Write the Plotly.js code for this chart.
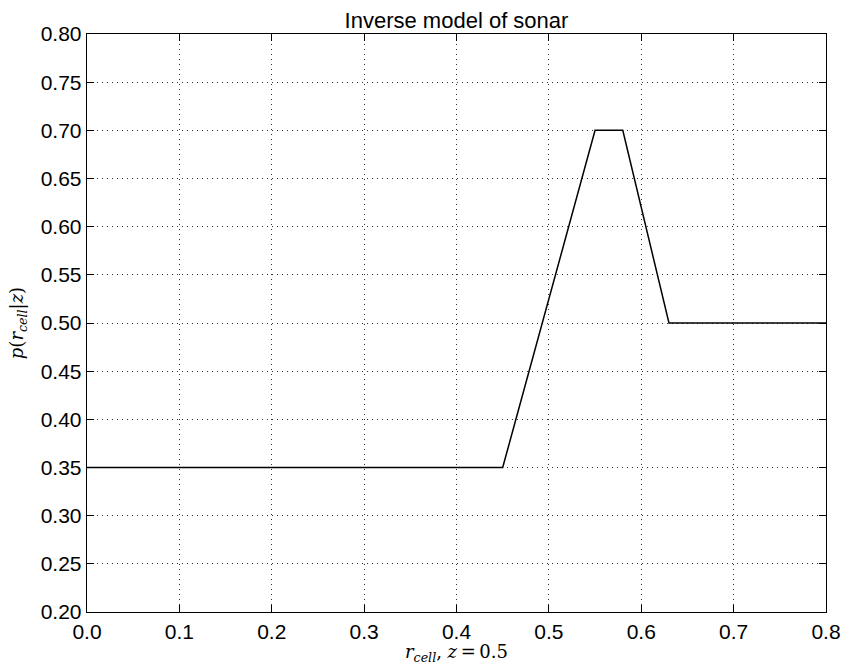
<!DOCTYPE html>
<html><head><meta charset="utf-8">
<script src="https://cdn.plot.ly/plotly-3.0.1.min.js"></script>
<style>body{margin:0;background:#fff}#c{width:841px;height:665px}</style>
</head><body><div id="c"></div>
<script>
const rCell = [0.0, 0.45, 0.55, 0.58, 0.63, 0.8];
const pOcc = [0.35, 0.35, 0.70, 0.70, 0.50, 0.50];
const xTicks = [0.0, 0.1, 0.2, 0.3, 0.4, 0.5, 0.6, 0.7, 0.8];
const yTicks = [0.20, 0.25, 0.30, 0.35, 0.40, 0.45, 0.50, 0.55, 0.60, 0.65, 0.70, 0.75, 0.80];

const axBase = {
  showline: true, linecolor: '#000', linewidth: 1.3, mirror: 'ticks',
  ticks: 'inside', ticklen: 7, tickwidth: 1, tickcolor: '#000',
  showgrid: true, gridcolor: '#333', gridwidth: 1, griddash: '1px,4px',
  zeroline: false, tickfont: {family: 'Liberation Sans, Arial, sans-serif', size: 21, color: '#000'}
};
const layout = {
  width: 841, height: 665,
  margin: {l: 87, r: 15, t: 34, b: 53},
  paper_bgcolor: '#fff', plot_bgcolor: '#fff',
  showlegend: false,
  title: {text: 'Inverse model of sonar', x: 0.5, xanchor: 'center', xref: 'paper',
    y: 1, yref: 'paper', yanchor: 'bottom', pad: {b: 6},
    font: {family: 'Liberation Sans, Arial, sans-serif', size: 22, color: '#000'}},
  xaxis: Object.assign({}, axBase, {
    range: [0, 0.8], tickvals: xTicks, ticktext: xTicks.map(v => v.toFixed(1)),
    title: {text: '<i>r</i><sub><i>cell</i></sub>, <i>z</i>\u2009=\u20090.5', standoff: 4,
      font: {family: 'DejaVu Serif, serif', size: 18, color: '#000'}}
  }),
  yaxis: Object.assign({}, axBase, {
    range: [0.2, 0.8], tickvals: yTicks, ticktext: yTicks.map(v => v.toFixed(2)),
    title: {text: '<i>p</i>(<i>r</i><sub><i>cell</i></sub>|<i>z</i>)', standoff: 12,
      font: {family: 'DejaVu Serif, serif', size: 18, color: '#000'}}
  })
};
Plotly.newPlot('c', [{
  x: rCell, y: pOcc, type: 'scatter', mode: 'lines',
  line: {color: '#000', width: 1.5}, hoverinfo: 'skip'
}], layout, {displayModeBar: false, staticPlot: true});
</script></body></html>
